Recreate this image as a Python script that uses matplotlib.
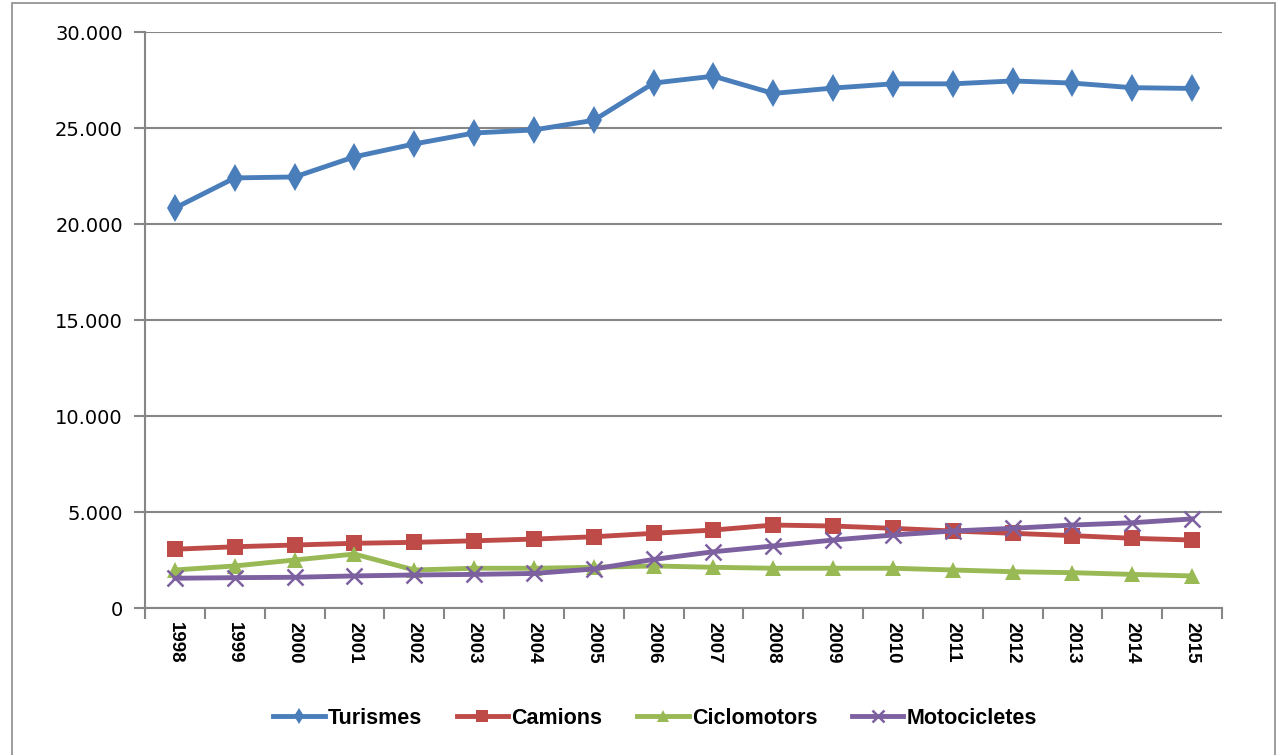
import matplotlib
matplotlib.use("Agg")
import matplotlib.pyplot as plt
from matplotlib.ticker import FixedLocator, FuncFormatter
from matplotlib.patches import Rectangle
import numpy as np

years = [str(y) for y in range(1998, 2016)]
turismes = [20830, 22400, 22450, 23500, 24170, 24740, 24900, 25400, 27340, 27700,
            26800, 27080, 27300, 27300, 27450, 27340, 27100, 27060]
camions = [3060, 3190, 3280, 3370, 3420, 3500, 3590, 3710, 3890, 4060,
           4320, 4270, 4150, 4010, 3890, 3770, 3630, 3540]
ciclomotors = [1980, 2190, 2500, 2810, 1980, 2070, 2070, 2120, 2190, 2120,
               2070, 2070, 2070, 1980, 1890, 1840, 1750, 1670]
motocicletes = [1550, 1580, 1600, 1670, 1720, 1750, 1800, 2030, 2530, 2930,
                3230, 3540, 3800, 4010, 4150, 4320, 4440, 4640]

series = [
    ("Turismes", turismes, "#4A7EBB", "d", 14),
    ("Camions", camions, "#BE4B48", "s", 11.5),
    ("Ciclomotors", ciclomotors, "#98B954", "^", 12),
    ("Motocicletes", motocicletes, "#7D60A0", "x", 11),
]

W, H = 1278, 755
fig = plt.figure(figsize=(W / 100, H / 100), dpi=100)
ax = fig.add_axes([145 / W, 1 - 608 / H, (1222 - 145) / W, (608 - 32) / H])

x = np.arange(len(years))
for name, vals, col, mk, ms in series:
    kw = dict(markeredgewidth=1.8) if mk == "x" else dict(markeredgewidth=0)
    ax.plot(x, vals, color=col, lw=3.5, marker=mk, markersize=ms,
            markerfacecolor=col, markeredgecolor=col, label=name, **kw)

ax.set_xlim(-0.5, len(years) - 0.5)
ax.set_ylim(0, 30000)
ax.yaxis.set_major_locator(FixedLocator(np.arange(0, 30001, 5000)))
ax.yaxis.set_major_formatter(FuncFormatter(lambda v, p: "0" if v == 0 else f"{int(v):,}".replace(",", ".")))
ax.grid(axis="y", color="#868686", lw=1.5)
ax.set_axisbelow(True)

ax.set_xticks(x)
ax.set_xticks(np.arange(-0.5, len(years), 1.0), minor=True)
ax.set_xticklabels(years, rotation=-90, fontsize=13.5, fontweight="bold",
                   family=["Liberation Sans Narrow", "Liberation Sans", "DejaVu Sans"])
ax.tick_params(axis="x", which="major", length=0, pad=10)
ax.tick_params(axis="x", which="minor", length=8, width=1.5, color="#868686", direction="out")
ax.tick_params(axis="y", length=8, width=1.5, color="#868686", labelsize=14, pad=8)
for lab in ax.get_yticklabels():
    lab.set_family(["DejaVu Sans"])

for sp in ["top", "right"]:
    ax.spines[sp].set_visible(False)
for sp in ["left", "bottom"]:
    ax.spines[sp].set_color("#868686")
    ax.spines[sp].set_linewidth(1.5)

leg = fig.legend(loc="center", bbox_to_anchor=(655 / W, 1 - 718 / H), ncol=4, frameon=False,
                 handlelength=2.4, handletextpad=0.15, columnspacing=1.6,
                 prop={"family": ["Liberation Sans Narrow", "Liberation Sans", "DejaVu Sans"],
                       "weight": "bold", "size": 15.5})
for h in leg.legend_handles:
    h.set_markersize(8)

fig.add_artist(Rectangle((12 / W, -0.01), (1275 - 12) / W, 1 - 3 / H + 0.01,
                         transform=fig.transFigure, fill=False, edgecolor="#8c8c8c", lw=1.2))

fig.savefig("out.png", dpi=100, facecolor="white")
